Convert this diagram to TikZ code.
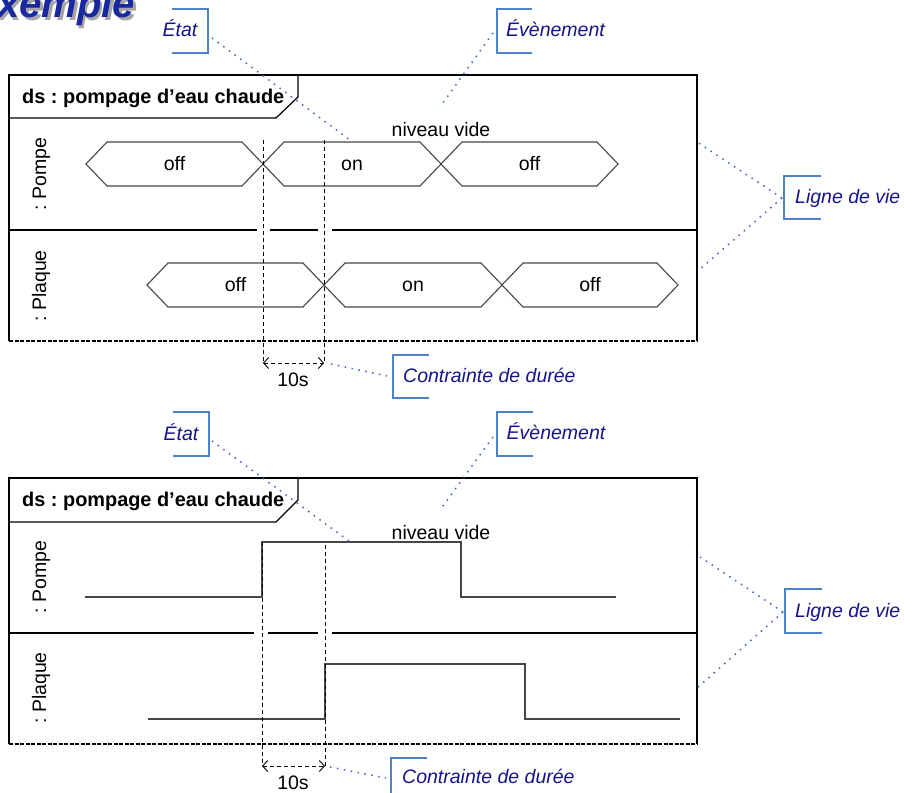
\documentclass[tikz,border=0pt]{standalone}
\usepackage{fontspec}
\setmainfont{Liberation Sans}
\usetikzlibrary{arrows.meta}
\definecolor{navyc}{RGB}{20,20,140}
\definecolor{brkc}{RGB}{79,129,199}
\definecolor{dotc}{RGB}{70,100,200}
\definecolor{wavec}{RGB}{70,70,70}
\definecolor{titlec}{RGB}{25,40,160}
\frenchspacing
\begin{document}
\begin{tikzpicture}[x=1pt,y=-1pt,
  frame/.style={line width=1.2pt, draw=black},
  lowframe/.style={line width=1.5pt, draw=black, dash pattern=on 4pt off 1.5pt},
  wave/.style={line width=1.1pt, draw=wavec, line join=miter},
  guide/.style={line width=0.9pt, draw=black, dash pattern=on 4pt off 3pt},
  dim/.style={line width=0.9pt, draw=black, dash pattern=on 4pt off 3pt, {Straight Barb[length=5pt,width=11pt]}-{Straight Barb[length=5pt,width=11pt]}},
  lab/.style={font=\fontsize{19.5}{23}\selectfont, inner sep=0pt},
  titletext/.style={font=\bfseries\fontsize{19.9}{23}\selectfont, inner sep=0pt},
  note/.style={font=\itshape\fontsize{19.5}{23}\selectfont, text=navyc, inner sep=0pt},
  brk/.style={draw=brkc, line width=1.5pt},
  dots/.style={draw=dotc, line width=1.5pt, dash pattern=on 1.5pt off 5.5pt}]
\useasboundingbox (0,0) rectangle (904,792);
\clip (0,0) rectangle (904,792);

% heading (cropped at the page edge, as in the reference)
\node[font=\bfseries\itshape\fontsize{40}{48}\selectfont, text=black!35, anchor=base west, inner sep=0pt] (hds) at (-27,21) {Exemple};
\node[font=\bfseries\itshape\fontsize{40}{48}\selectfont, text=titlec, anchor=base west, inner sep=0pt] (hd) at (-29.5,18) {Exemple};

% ================= TOP DIAGRAM =================
\draw[frame] (9,341) -- (9,75) -- (697,75) -- (697,341);
\draw[lowframe] (9,341) -- (697,341);
\draw[frame] (9,118) -- (276,118) -- (298,97) -- (298,75);
\node[titletext, anchor=base west] (t1) at (22,103) {ds : pompage d’eau chaude};
\draw[frame] (9,230) -- (257,230);
\draw[frame] (270,230) -- (318,230);
\draw[frame] (332,230) -- (697,230);

\node[lab, rotate=90, anchor=base] (p1) at (46,174) {: Pompe};
\node[lab, rotate=90, anchor=base] (q1) at (46,286) {: Plaque};

\foreach \a/\b in {86/263, 263/441, 441/618}
  \draw[wave] (\a,164) -- (\a+21,142) -- (\b-21,142) -- (\b,164) -- (\b-21,186) -- (\a+21,186) -- cycle;
\foreach \a/\b in {147/324, 324/502, 502/678}
  \draw[wave] (\a,285) -- (\a+21,263) -- (\b-21,263) -- (\b,285) -- (\b-21,307) -- (\a+21,307) -- cycle;

\node[lab, anchor=base] (s1) at (174.5,170) {off};
\node[lab, anchor=base] (s2) at (352,170) {on};
\node[lab, anchor=base] (s3) at (529.5,170) {off};
\node[lab, anchor=base] (s4) at (235.5,291) {off};
\node[lab, anchor=base] (s5) at (413,291) {on};
\node[lab, anchor=base] (s6) at (590,291) {off};
\node[lab, anchor=base] (nv1) at (441,136) {niveau vide};

\coordinate (g1a) at (263,140); \coordinate (g1b) at (263,363);
\coordinate (g2a) at (324,140); \coordinate (g2b) at (324,363);
\draw[guide] (g1a) -- (g1b);
\draw[guide] (g2a) -- (g2b);
\draw[dim] (g1b) -- (g2b);
\node[lab, anchor=base] (d1) at (293,386) {10s};

% notes top
\node[note, anchor=base] (etat1) at (180,37) {État};
\draw[brk] (172,9) -- (208,9) -- (208,53) -- (172,53);
\coordinate (ea1) at (212,38); \coordinate (eb1) at (350,140);
\draw[dots] (ea1) -- (eb1);

\node[note, anchor=base] (ev1) at (555.5,37) {Évènement};
\draw[brk] (532,9) -- (497,9) -- (497,53) -- (532,53);
\coordinate (va1) at (493,33); \coordinate (vb1) at (440,107);
\draw[dots] (va1) -- (vb1);

\node[note, anchor=base west] (lv1) at (795,203) {Ligne de vie};
\draw[brk] (821,176) -- (784,176) -- (784,219) -- (821,219);
\coordinate (la1) at (782,198); \coordinate (lb1) at (697,142); \coordinate (lc1) at (699,270);
\draw[dots] (la1) -- (lb1);
\draw[dots] (la1) -- (lc1);

\node[note, anchor=base west] (cd1) at (403,382) {Contrainte de durée};
\draw[brk] (429,355) -- (393,355) -- (393,398) -- (429,398);
\coordinate (ca1) at (331,364); \coordinate (cb1) at (387,376);
\draw[dots] (ca1) -- (cb1);

% ================= BOTTOM DIAGRAM =================
\draw[frame] (9,744) -- (9,478) -- (697,478) -- (697,744);
\draw[lowframe] (9,744) -- (697,744);
\draw[frame] (9,522) -- (276,522) -- (298,500) -- (298,478);
\node[titletext, anchor=base west] (t2) at (22,506) {ds : pompage d’eau chaude};
\draw[frame] (9,633) -- (254,633);
\draw[frame] (268,633) -- (318,633);
\draw[frame] (332,633) -- (697,633);

\node[lab, rotate=90, anchor=base] (p2) at (46,577) {: Pompe};
\node[lab, rotate=90, anchor=base] (q2) at (46,688) {: Plaque};

\draw[wave] (85,597) -- (262,597) -- (262,542) -- (461,542) -- (461,597) -- (616,597);
\draw[wave] (148,719) -- (325,719) -- (325,664) -- (525,664) -- (525,719) -- (680,719);
\node[lab, anchor=base] (nv2) at (441,539) {niveau vide};

\coordinate (g3a) at (262,542); \coordinate (g3b) at (262,766);
\coordinate (g4a) at (325,545); \coordinate (g4b) at (325,766);
\draw[guide] (g3a) -- (g3b);
\draw[guide] (g4a) -- (g4b);
\draw[dim] (g3b) -- (g4b);
\node[lab, anchor=base] (d2) at (293,789) {10s};

% notes bottom
\node[note, anchor=base] (etat2) at (181,440) {État};
\draw[brk] (173,412) -- (209,412) -- (209,456) -- (173,456);
\coordinate (ea2) at (212,441); \coordinate (eb2) at (349,541);
\draw[dots] (ea2) -- (eb2);

\node[note, anchor=base] (ev2) at (556,439) {Évènement};
\draw[brk] (533,412) -- (497,412) -- (497,456) -- (533,456);
\coordinate (va2) at (493,437); \coordinate (vb2) at (440,510);
\draw[dots] (va2) -- (vb2);

\node[note, anchor=base west] (lv2) at (795,617) {Ligne de vie};
\draw[brk] (822,589) -- (785,589) -- (785,633) -- (822,633);
\coordinate (la2) at (783,612); \coordinate (lb2) at (697,555); \coordinate (lc2) at (697,688);
\draw[dots] (la2) -- (lb2);
\draw[dots] (la2) -- (lc2);

\node[note, anchor=base west] (cd2) at (402,783) {Contrainte de durée};
\draw[brk] (427,758) -- (391,758) -- (391,805);
\coordinate (ca2) at (330,767); \coordinate (cb2) at (386,778);
\draw[dots] (ca2) -- (cb2);
\end{tikzpicture}
\end{document}
